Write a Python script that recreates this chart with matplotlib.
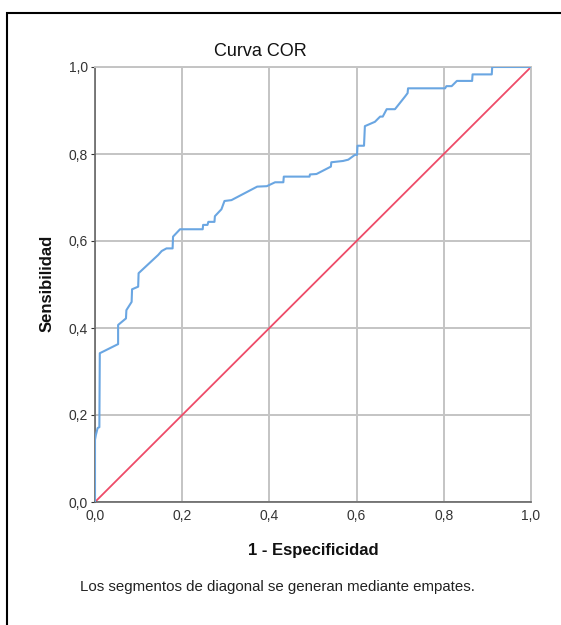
import matplotlib.pyplot as plt
from matplotlib.patches import Rectangle

plt.rcParams['font.family'] = ['Liberation Sans', 'DejaVu Sans']

# ROC curve points
fpr = [0.0, 0.0, 0.002, 0.006, 0.010, 0.011, 0.053, 0.053, 0.071, 0.072,
       0.084, 0.085, 0.099, 0.100, 0.145, 0.153, 0.164, 0.178, 0.179, 0.195,
       0.247, 0.248, 0.258, 0.260, 0.274, 0.275, 0.290, 0.297, 0.313, 0.372,
       0.394, 0.413, 0.432, 0.433, 0.492, 0.493, 0.508, 0.541, 0.542, 0.569,
       0.581, 0.596, 0.601, 0.602, 0.617, 0.619, 0.642, 0.654, 0.660, 0.669,
       0.688, 0.711, 0.717, 0.718, 0.803, 0.806, 0.818, 0.830, 0.865, 0.866,
       0.910, 0.911, 1.0]
tpr = [0.0, 0.143, 0.154, 0.170, 0.172, 0.342, 0.363, 0.407, 0.422, 0.441,
       0.460, 0.489, 0.495, 0.526, 0.568, 0.577, 0.583, 0.583, 0.610, 0.627,
       0.627, 0.637, 0.637, 0.644, 0.644, 0.657, 0.673, 0.692, 0.694, 0.725,
       0.726, 0.735, 0.735, 0.748, 0.748, 0.753, 0.754, 0.771, 0.781, 0.784,
       0.787, 0.798, 0.798, 0.819, 0.819, 0.864, 0.874, 0.886, 0.886, 0.903,
       0.903, 0.932, 0.940, 0.951, 0.951, 0.956, 0.956, 0.968, 0.968, 0.983,
       0.983, 1.0, 1.0]
diag = [0.0, 1.0]
ticks = [0.0, 0.2, 0.4, 0.6, 0.8, 1.0]
tick_labels = ["0,0", "0,2", "0,4", "0,6", "0,8", "1,0"]

fig = plt.figure(figsize=(5.61, 6.25), dpi=100)
ax = fig.add_axes([95 / 561, 1 - 502 / 625, 436 / 561, 435 / 625])

ax.plot(fpr, tpr, color='#6aa6e2', lw=1.5, zorder=3)
ax.plot(diag, diag, color='#ee4b68', lw=1.3, zorder=2)

ax.set_xlim(0, 1)
ax.set_ylim(0, 1)
ax.set_xticks(ticks)
ax.set_xticklabels(tick_labels)
ax.set_yticks(ticks)
ax.set_yticklabels(tick_labels)
ax.tick_params(labelsize=10, colors='#333333', length=3, width=0.8, pad=2)
ax.tick_params(axis='x', length=0, pad=5)
ax.grid(True, color='#c4c4c4', lw=1.4)
ax.set_axisbelow(True)
for side in ['top', 'right']:
    ax.spines[side].set_color('#c4c4c4')
    ax.spines[side].set_linewidth(1.4)
for side in ['left', 'bottom']:
    ax.spines[side].set_color('#666666')
    ax.spines[side].set_linewidth(1.2)

fig.text(260 / 561, 1 - 52 / 625, "Curva COR", ha='center', va='center',
         fontsize=13, color='#111111')
fig.text(313 / 561, 1 - 550 / 625, "1 - Especificidad", ha='center', va='center',
         fontsize=12, fontweight='bold', color='#111111')
fig.text(47 / 561, 1 - 283 / 625, "Sensibilidad", ha='center', va='center',
         rotation=90, fontsize=12, fontweight='bold', color='#111111')
fig.text(80 / 561, 1 - 587 / 625, "Los segmentos de diagonal se generan mediante empates.",
         ha='left', va='center', fontsize=10.8, color='#222222')

# outer frame, cut off on the right and bottom
fig.patches.append(Rectangle((7 / 561, -0.1), 1.2, 1 - 12.5 / 625 + 0.1,
                             transform=fig.transFigure, fill=False,
                             edgecolor='black', lw=1.5))

fig.savefig("out.png", dpi=100)
